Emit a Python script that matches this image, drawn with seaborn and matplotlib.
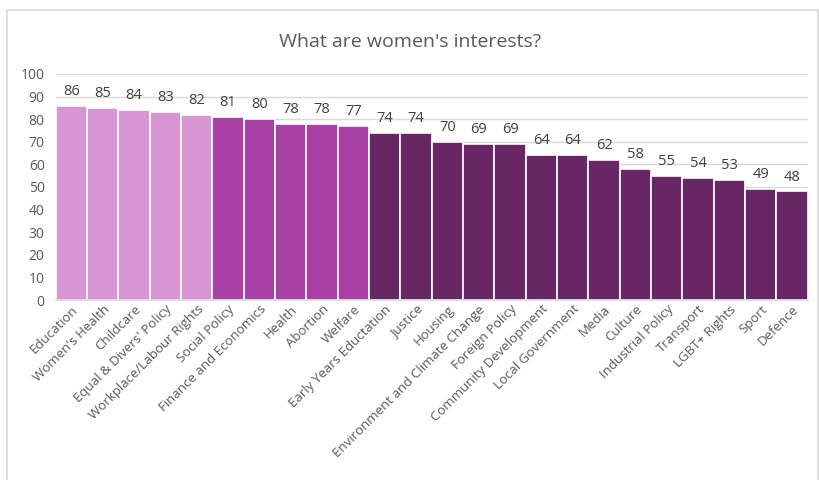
import matplotlib
matplotlib.use("Agg")
import matplotlib.pyplot as plt
import seaborn as sns
import pandas as pd
from matplotlib.patches import Rectangle

categories = ["Education", "Women's Health", "Childcare", "Equal & Divers' Policy",
              "Workplace/Labour Rights", "Social Policy", "Finance and Economics",
              "Health", "Abortion", "Welfare", "Early Years Eductation", "Justice",
              "Housing", "Environment and Climate Change", "Foreign Policy",
              "Community Development", "Local Government", "Media", "Culture",
              "Industrial Policy", "Transport", "LGBT+ Rights", "Sport", "Defence"]
values = [86, 85, 84, 83, 82, 81, 80, 78, 78, 77, 74, 74, 70, 69, 69, 64, 64, 62,
          58, 55, 54, 53, 49, 48]
groups = ["light"] * 5 + ["mid"] * 5 + ["dark"] * 14
group_colors = {"light": "#d796d3", "mid": "#a941a5", "dark": "#672765"}

df = pd.DataFrame({"category": categories, "value": values, "group": groups})

sns.set_theme(style="white")
plt.rcParams["font.family"] = ["Open Sans", "DejaVu Sans"]

fig = plt.figure(figsize=(8.2, 4.8), dpi=100)
ax = fig.add_axes([0.068, 0.375, 0.917, 0.471])

sns.barplot(data=df, x="category", y="value", hue="group", palette=group_colors,
            dodge=False, width=1.0, edgecolor="white", linewidth=1.2,
            saturation=1, legend=False, ax=ax)

ax.set_ylim(0, 100)
ax.set_yticks(range(0, 101, 10))
ax.yaxis.grid(True, color="#d9d9d9", linewidth=1)
ax.set_axisbelow(True)
ax.set_xlim(-0.5, len(categories) - 0.5)
for s in ["top", "right", "left"]:
    ax.spines[s].set_visible(False)
ax.spines["bottom"].set_color("#d9d9d9")
ax.set_xlabel("")
ax.set_ylabel("")
ax.tick_params(axis="y", colors="#595959", labelsize=10, length=0, pad=8)
ax.tick_params(axis="x", colors="#595959", labelsize=9.5, length=0, pad=2)
ax.set_xticks(range(len(categories)))
ax.set_xticklabels(categories, rotation=45, ha="right", rotation_mode="anchor")

for i, v in enumerate(values):
    ax.annotate(str(v), (i, v), xytext=(0, 5), textcoords="offset points",
                ha="center", va="bottom", fontsize=10.5, color="#404040")

fig.text(0.5, 0.912, "What are women's interests?", ha="center", va="center",
         fontsize=14, color="#595959")

fig.patches.append(Rectangle((7 / 820, -0.01), 811 / 820, (480 - 10) / 480 + 0.01,
                             transform=fig.transFigure, fill=False,
                             edgecolor="#d9d9d9", linewidth=1.2))

fig.savefig("out.png", dpi=100)
